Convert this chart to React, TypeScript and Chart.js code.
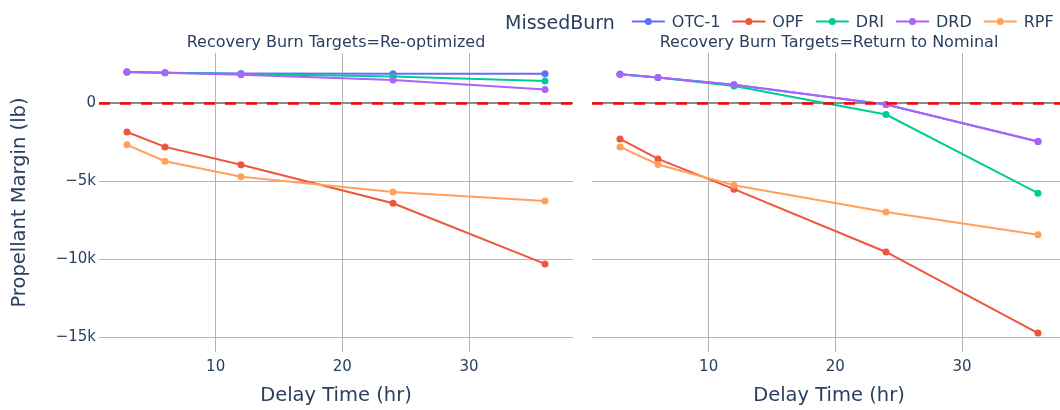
import React, { useEffect, useRef } from "react";
import { Chart, registerables } from "chart.js";

Chart.register(...registerables);

// Delay times (hours) shared by every series
const delayHours = [3, 6, 12, 24, 36];

// Propellant margin (lb) with recovery burn targets re-optimized
const reoptOTC1 = [2020, 1970, 1925, 1905, 1905];
const reoptOPF = [-1830, -2780, -3930, -6390, -10280];
const reoptDRI = [2020, 1970, 1885, 1730, 1440];
const reoptDRD = [2020, 1970, 1840, 1500, 900];
const reoptRPF = [-2650, -3700, -4700, -5665, -6245];

// Propellant margin (lb) with recovery burn targets returning to nominal
const nominalOTC1 = [1870, 1670, 1200, -65, -2430];
const nominalOPF = [-2270, -3550, -5490, -9515, -14715];
const nominalDRI = [1870, 1670, 1115, -705, -5745];
const nominalDRD = [1870, 1670, 1200, -65, -2430];
const nominalRPF = [-2780, -3910, -5235, -6950, -8405];

const seriesNames = ["OTC-1", "OPF", "DRI", "DRD", "RPF"];
const seriesColors = ["#636efa", "#EF553B", "#00cc96", "#ab63fa", "#FFA15A"];

const xTickValues = [10, 20, 30];
const yTickValues = [0, -5000, -10000, -15000];
const yTickLabels = ["0", "\u22125k", "\u221210k", "\u221215k"];
const xRange = [0.79, 38.21];
const yRange = [-15925, 3236];

const panelTitles = [
  "Recovery Burn Targets=Re-optimized",
  "Recovery Burn Targets=Return to Nominal",
];
const legendTitle = "MissedBurn";
const xAxisTitle = "Delay Time (hr)";
const yAxisTitle = "Propellant Margin (lb)";

const FONT = "'DejaVu Sans', Verdana, sans-serif";
const TEXT = "#2a3f5f";
const GRID = "#b4b4b4";
const ZERO_GRID = "#8c8c8c";

function buildDatasets(series: number[][]) {
  return series.map((values, i) => ({
    label: seriesNames[i],
    data: delayHours.map((h, j) => ({ x: h, y: values[j] })),
    borderColor: seriesColors[i],
    backgroundColor: seriesColors[i],
    pointBackgroundColor: seriesColors[i],
    borderWidth: 2,
    pointRadius: 3.5,
    pointBorderWidth: 0,
    pointHoverRadius: 3.5,
    tension: 0,
    order: series.length - i,
  }));
}

// Red dashed reference line at zero margin
const zeroRulePlugin = {
  id: "zeroRule",
  afterDatasetsDraw(chart: any) {
    const { ctx, chartArea } = chart;
    const y = chart.scales.y.getPixelForValue(0);
    ctx.save();
    ctx.strokeStyle = "rgb(255,0,0)";
    ctx.lineWidth = 2.5;
    ctx.setLineDash([11, 10]);
    ctx.beginPath();
    ctx.moveTo(chartArea.left, y);
    ctx.lineTo(chartArea.right, y);
    ctx.stroke();
    ctx.restore();
  },
};

// Facet title centred over the plotting area
const panelTitlePlugin = {
  id: "panelTitle",
  afterDraw(chart: any, _args: any, opts: any) {
    const { ctx, chartArea } = chart;
    ctx.save();
    ctx.fillStyle = TEXT;
    ctx.font = `16px ${FONT}`;
    ctx.textAlign = "center";
    ctx.textBaseline = "alphabetic";
    ctx.fillText(opts.text, (chartArea.left + chartArea.right) / 2, 47);
    ctx.restore();
  },
};

// Horizontal legend with title, drawn along the top edge
const missedBurnLegendPlugin = {
  id: "missedBurnLegend",
  afterDraw(chart: any, _args: any, opts: any) {
    if (!opts.show) return;
    const { ctx } = chart;
    ctx.save();
    ctx.textAlign = "left";
    ctx.textBaseline = "alphabetic";
    ctx.fillStyle = TEXT;
    ctx.font = `19px ${FONT}`;
    let x = opts.x;
    ctx.fillText(legendTitle, x, 29);
    x += ctx.measureText(legendTitle).width + 17;
    ctx.font = `16px ${FONT}`;
    const cy = 21.5;
    chart.data.datasets.forEach((ds: any) => {
      ctx.strokeStyle = ds.borderColor;
      ctx.lineWidth = 2;
      ctx.beginPath();
      ctx.moveTo(x, cy);
      ctx.lineTo(x + 33, cy);
      ctx.stroke();
      ctx.fillStyle = ds.borderColor;
      ctx.beginPath();
      ctx.arc(x + 16.5, cy, 3.5, 0, Math.PI * 2);
      ctx.fill();
      ctx.fillStyle = TEXT;
      ctx.fillText(ds.label, x + 40, 27);
      x += 40 + ctx.measureText(ds.label).width + 12;
    });
    ctx.restore();
  },
};

function makeConfig(
  series: number[][],
  title: string,
  withYLabels: boolean,
  padding: { left: number; right: number },
  legendX: number | null
): any {
  return {
    type: "line",
    data: { datasets: buildDatasets(series) },
    plugins: [zeroRulePlugin, panelTitlePlugin, missedBurnLegendPlugin],
    options: {
      responsive: false,
      animation: false,
      events: [],
      layout: { padding: { left: padding.left, right: padding.right, top: 53, bottom: 0 } },
      plugins: {
        legend: { display: false },
        title: { display: false },
        tooltip: { enabled: false },
        panelTitle: { text: title },
        missedBurnLegend: { show: legendX !== null, x: legendX ?? 0 },
      },
      scales: {
        x: {
          type: "linear",
          min: xRange[0],
          max: xRange[1],
          afterBuildTicks: (s: any) => {
            s.ticks = xTickValues.map((v) => ({ value: v }));
          },
          afterFit: (s: any) => {
            s.height = 58;
          },
          border: { display: false },
          grid: { color: GRID, lineWidth: 1, drawTicks: false },
          ticks: {
            color: TEXT,
            font: { family: FONT, size: 15 },
            padding: 6,
            maxRotation: 0,
            autoSkip: false,
            callback: (v: any) => String(v),
          },
          title: {
            display: true,
            text: xAxisTitle,
            color: TEXT,
            font: { family: FONT, size: 19.5 },
            padding: { top: 0, bottom: 2 },
          },
        },
        y: {
          type: "linear",
          min: yRange[0],
          max: yRange[1],
          afterBuildTicks: (s: any) => {
            s.ticks = yTickValues.map((v) => ({ value: v }));
          },
          afterFit: (s: any) => {
            s.width = withYLabels ? 99 : 0;
          },
          border: { display: false },
          grid: {
            drawTicks: false,
            color: (c: any) => (c.tick && c.tick.value === 0 ? ZERO_GRID : GRID),
            lineWidth: (c: any) => (c.tick && c.tick.value === 0 ? 2 : 1),
          },
          ticks: {
            display: withYLabels,
            color: TEXT,
            font: { family: FONT, size: 15 },
            padding: 3,
            callback: (v: any) => {
              const k = yTickValues.indexOf(Number(v));
              return k >= 0 ? yTickLabels[k] : "";
            },
          },
          title: {
            display: withYLabels,
            text: yAxisTitle,
            color: TEXT,
            font: { family: FONT, size: 19.5 },
            padding: { top: 8, bottom: 0 },
          },
        },
      },
    },
  };
}

export default function App() {
  const leftRef = useRef<HTMLCanvasElement>(null);
  const rightRef = useRef<HTMLCanvasElement>(null);

  useEffect(() => {
    Chart.defaults.font.family = FONT;
    const left = new Chart(
      leftRef.current as HTMLCanvasElement,
      makeConfig(
        [reoptOTC1, reoptOPF, reoptDRI, reoptDRD, reoptRPF],
        panelTitles[0],
        true,
        { left: 0, right: 17 },
        null
      )
    );
    const right = new Chart(
      rightRef.current as HTMLCanvasElement,
      makeConfig(
        [nominalOTC1, nominalOPF, nominalDRI, nominalDRD, nominalRPF],
        panelTitles[1],
        false,
        { left: 92, right: 14 },
        5
      )
    );
    return () => {
      left.destroy();
      right.destroy();
    };
  }, []);

  return (
    <div
      style={{
        position: "fixed",
        left: 0,
        top: 0,
        width: 1060,
        height: 410,
        overflow: "hidden",
        background: "#ffffff",
      }}
    >
      <canvas
        ref={leftRef}
        width={590}
        height={410}
        style={{ position: "absolute", left: 0, top: 0, width: 590, height: 410 }}
      />
      <canvas
        ref={rightRef}
        width={580}
        height={410}
        style={{ position: "absolute", left: 500, top: 0, width: 580, height: 410 }}
      />
    </div>
  );
}
